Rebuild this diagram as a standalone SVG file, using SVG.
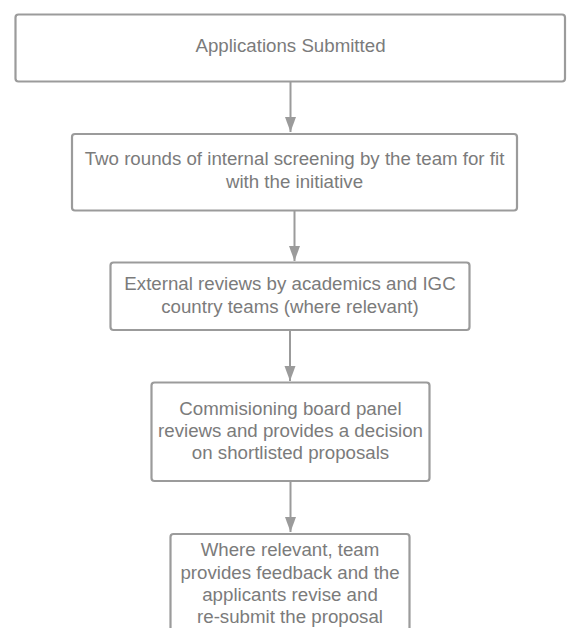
<svg xmlns="http://www.w3.org/2000/svg" width="571" height="628" viewBox="0 0 571 628">
<style>
.box{fill:#fff;stroke:#9b9b9b;stroke-width:2.2}
.lbl{font-family:"Liberation Sans",Arial,sans-serif;font-size:18.7px;fill:#7b7b7b;text-anchor:middle}
.conn line{stroke:#9b9b9b;stroke-width:2}
</style>
<defs>
<marker id="ah" markerWidth="16" markerHeight="12" refX="15" refY="6" orient="auto" markerUnits="userSpaceOnUse" viewBox="0 0 16 12">
<path d="M0,0.5 L15,6 L0,11.5 Z" fill="#9b9b9b"/>
</marker>
</defs>
<rect width="571" height="628" fill="#fff"/>
<g id="connectors" class="conn">
<line x1="290.5" y1="82" x2="290.5" y2="132" marker-end="url(#ah)"/>
<line x1="294.5" y1="211" x2="294.5" y2="261" marker-end="url(#ah)"/>
<line x1="290" y1="331" x2="290" y2="381" marker-end="url(#ah)"/>
<line x1="290.5" y1="482" x2="290.5" y2="532" marker-end="url(#ah)"/>
</g>
<g id="n1">
<rect class="box" x="15.5" y="14.5" width="549.5" height="67" rx="3"/>
<text class="lbl" x="290.5" y="51.7">Applications Submitted</text>
</g>
<g id="n2">
<rect class="box" x="72" y="134" width="445" height="76.5" rx="3"/>
<text class="lbl" x="294.5" y="165">Two rounds of internal screening by the team for fit</text>
<text class="lbl" x="294.5" y="188.3">with the initiative</text>
</g>
<g id="n3">
<rect class="box" x="110.5" y="262.5" width="359" height="67.5" rx="3"/>
<text class="lbl" x="290" y="290">External reviews by academics and IGC</text>
<text class="lbl" x="290" y="313.3">country teams (where relevant)</text>
</g>
<g id="n4">
<rect class="box" x="151.5" y="382.5" width="278" height="98.5" rx="3"/>
<text class="lbl" x="290.5" y="414.8">Commisioning board panel</text>
<text class="lbl" x="290.5" y="436.8">reviews and provides a decision</text>
<text class="lbl" x="290.5" y="458.8">on shortlisted proposals</text>
</g>
<g id="n5">
<rect class="box" x="170.5" y="534" width="239" height="120" rx="3"/>
<text class="lbl" x="290" y="556.2">Where relevant, team</text>
<text class="lbl" x="290" y="578.5">provides feedback and the</text>
<text class="lbl" x="290" y="600.8">applicants revise and</text>
<text class="lbl" x="290" y="623">re-submit the proposal</text>
</g>
</svg>
